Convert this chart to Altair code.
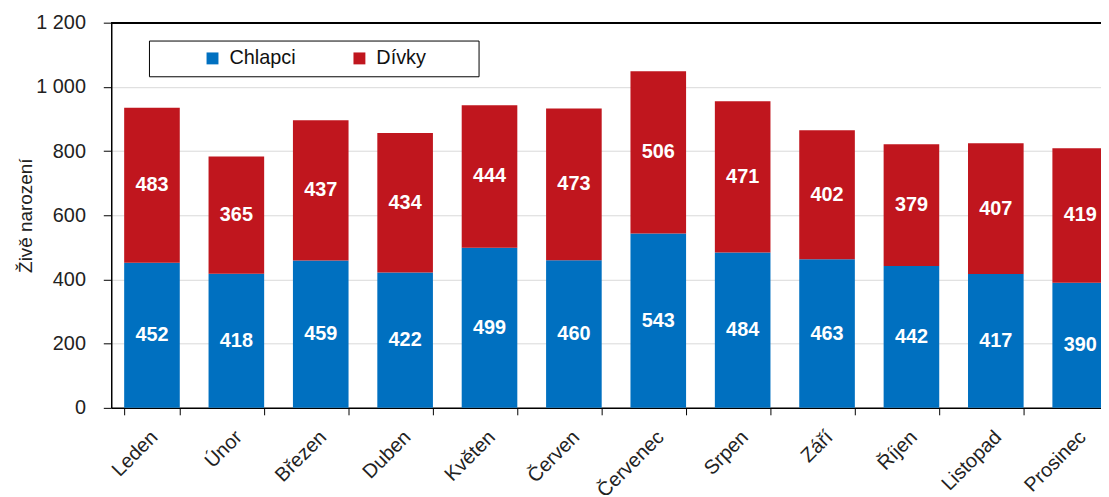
import altair as alt
import pandas as pd

months = ["Leden", "Únor", "Březen", "Duben", "Květen", "Červen",
          "Červenec", "Srpen", "Září", "Říjen", "Listopad", "Prosinec"]
series = ["Chlapci", "Dívky"]
chlapci = [452, 418, 459, 422, 499, 460, 543, 484, 463, 442, 417, 390]
divky = [483, 365, 437, 434, 444, 473, 506, 471, 402, 379, 407, 419]
colors = ["#0070C0", "#C0161E"]

rows = []
for i, m in enumerate(months):
    rows.append({"month": m, "sex": series[0], "idx": 0, "value": chlapci[i]})
    rows.append({"month": m, "sex": series[1], "idx": 1, "value": divky[i]})
df = pd.DataFrame(rows)

FONT = "Liberation Sans"
BLANK = "\u2800" * 3  # invisible filler to widen the legend frame on the right

base = alt.Chart(df).transform_stack(
    stack="value", groupby=["month"], sort=[alt.SortField("idx", order="ascending")],
    as_=["y0", "y1"]
).transform_calculate(mid="(datum.y0 + datum.y1) / 2")

x = alt.X("month:N", sort=months, title=None,
          scale=alt.Scale(paddingInner=0.341, paddingOuter=0.088, align=0.87),
          axis=alt.Axis(labelAngle=-45, labelAlign="right", labelBaseline="top",
                        labelFontSize=20, labelFont=FONT, labelColor="#222222",
                        tickBand="extent", tickColor="#000000", tickSize=7,
                        domainColor="#000000", domainWidth=1.5, labelPadding=12,
                        labelOffset=-5))

yscale = alt.Scale(domain=[0, 1200], nice=False)

bars = base.mark_bar().encode(
    x=x,
    y=alt.Y("y0:Q", scale=yscale, title="Živě narození",
            axis=alt.Axis(values=[0, 200, 400, 600, 800, 1000, 1200],
                          labelExpr="replace(format(datum.value, ','), ',', ' ')",
                          labelFontSize=20, labelFont=FONT, labelColor="#222222",
                          titleFontSize=19, titleFont=FONT, titleFontWeight="normal",
                          titleColor="#222222", titlePadding=0,
                          tickColor="#000000", tickSize=8, domainColor="#000000",
                          domainWidth=1.5, gridColor="#D9D9D9", labelPadding=18)),
    y2="y1:Q",
    color=alt.Color("sex:N", scale=alt.Scale(domain=series, range=colors),
                    legend=alt.Legend(orient="none", legendX=38, legendY=18,
                                      direction="horizontal", title=None,
                                      strokeColor="#000000", fillColor="#FFFFFF",
                                      padding=8, symbolType="square", symbolSize=144,
                                      symbolStrokeWidth=0,
                                      labelFontSize=20, labelFont=FONT,
                                      labelColor="#111111", columnPadding=8,
                                      symbolOffset=46, labelOffset=7,
                                      labelExpr="datum.label == 'Dívky' ? datum.label + '" + BLANK + "' : datum.label")),
)

labels = base.mark_text(color="white", fontWeight="bold", fontSize=20, font=FONT).encode(
    x=alt.X("month:N", sort=months),
    y=alt.Y("mid:Q", scale=yscale),
    text="value:Q",
)

top = alt.Chart(df).mark_rule(color="#000000", strokeWidth=1.5).encode(
    y=alt.datum(1200)
)

chart = alt.layer(bars, labels, top).properties(
    width=1006, height=388,
    autosize=alt.AutoSizeParams(type="none"),
    padding={"left": 104, "top": 13, "right": -9, "bottom": 86},
).configure_view(stroke=None).configure_axisX(grid=False)

chart.save("out.html", embed_options={"renderer": "svg", "actions": False})
